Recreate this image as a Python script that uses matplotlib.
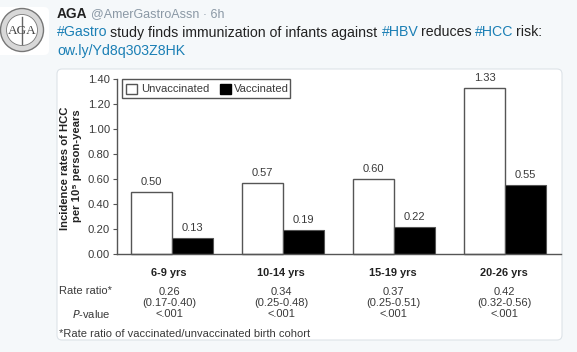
import matplotlib
matplotlib.use('Agg')
import matplotlib.pyplot as plt
from matplotlib.patches import Circle, FancyBboxPatch, Rectangle

plt.rcParams['font.family'] = ['Liberation Sans', 'DejaVu Sans']

# values
groups = ['6-9 yrs', '10-14 yrs', '15-19 yrs', '20-26 yrs']
unvaccinated = [0.50, 0.57, 0.60, 1.33]
vaccinated = [0.13, 0.19, 0.22, 0.55]
yticks = [0.00, 0.20, 0.40, 0.60, 0.80, 1.00, 1.20, 1.40]
rate_ratio = ['0.26', '0.34', '0.37', '0.42']
rate_ci = ['(0.17-0.40)', '(0.25-0.48)', '(0.25-0.51)', '(0.32-0.56)']
p_values = ['<.001', '<.001', '<.001', '<.001']

W, H = 577, 352
bg = '#f5f8fa'
blue = '#1b7fb5'
grey = '#3a3a3a'
edge = '#555555'

fig = plt.figure(figsize=(W / 100, H / 100), dpi=100, facecolor=bg)

# page layer, in pixels
page = fig.add_axes([0, 0, 1, 1])
page.set_xlim(0, W)
page.set_ylim(H, 0)
page.axis('off')

# white card behind the chart
page.add_patch(FancyBboxPatch((60, 72), 499, 265, boxstyle='round,pad=3,rounding_size=5',
                              fc='white', ec='#dde3e8', lw=0.8))

# avatar
page.add_patch(FancyBboxPatch((-6, 10), 52, 42, boxstyle='round,pad=3,rounding_size=5',
                              fc='white', ec='none'))
page.add_patch(Circle((22, 30), 21.5, fc='#d8d8d8', ec='#777777', lw=1))
page.add_patch(Circle((22, 30), 15.5, fc='white', ec='#777777', lw=0.6))
page.plot([22, 22], [17, 44], color='#666666', lw=1)
page.text(22, 31, 'AGA', fontsize=9.5, family='Liberation Serif', color='#444444',
          ha='center', va='center')

# tweet header
page.text(57, 13.5, 'AGA', fontsize=9.9, weight='bold', color='#222222', va='center')
page.text(91, 14, '@AmerGastroAssn · 6h', fontsize=9, color='#8a98a5', va='center')

# tweet text, one piece per colour
tweet = [(57, '#Gastro', blue), (110, 'study finds immunization of infants against', '#222222'),
         (382, '#HBV', blue), (421, 'reduces', '#222222'), (475, '#HCC', blue),
         (516, 'risk:', '#222222')]
for x, s, c in tweet:
    page.text(x, 32.5, s, fontsize=10.2, color=c, va='center')
page.text(57, 50.5, 'ow.ly/Yd8q303Z8HK', fontsize=10.2, color=blue, va='center')

# chart
ax = fig.add_axes([116.5 / W, 1 - 254 / H, 444 / W, 175 / H])
ax.patch.set_alpha(0)
pos = list(range(len(groups)))
w = 0.369
ax.bar([p - w / 2 for p in pos], unvaccinated, w, fc='white', ec=edge, lw=1, clip_on=False)
ax.bar([p + w / 2 for p in pos], vaccinated, w, fc='black', ec=edge, lw=0.8)
ax.set_xlim(-0.5, 3.5)
ax.set_ylim(0, 1.4)
ax.set_yticks(yticks)
ax.set_yticklabels(['%.2f' % v for v in yticks], fontsize=8.1, color=grey)
ax.set_xticks([])
ax.tick_params(axis='y', length=3.2, width=0.8, color=edge, pad=1.5)
for s in ['top', 'right']:
    ax.spines[s].set_visible(False)
for s in ['left', 'bottom']:
    ax.spines[s].set_color(edge)
    ax.spines[s].set_linewidth(1)

for i, p in enumerate(pos):
    ax.annotate('%.2f' % unvaccinated[i], (p - w / 2, unvaccinated[i]), xytext=(0, 5),
                textcoords='offset points', ha='center', fontsize=8, color=grey,
                annotation_clip=False)
    ax.annotate('%.2f' % vaccinated[i], (p + w / 2, vaccinated[i]), xytext=(0, 5),
                textcoords='offset points', ha='center', fontsize=8, color=grey)

# y label, two lines
page.text(65, 168.5, 'Incidence rates of HCC', fontsize=8.1, weight='bold', rotation=90,
          color='#222222', ha='center', va='center')
page.text(77, 166, 'per 10⁵ person-years', fontsize=8.1, weight='bold', rotation=90,
          color='#222222', ha='center', va='center')

# legend box
page.add_patch(Rectangle((122, 79), 168, 19, fc='white', ec=edge, lw=1, zorder=5))
page.add_patch(Rectangle((126, 84), 11, 10, fc='white', ec=edge, lw=1, zorder=6))
page.text(141.5, 89, 'Unvaccinated', fontsize=8.1, color=grey, va='center', zorder=6)
page.add_patch(Rectangle((219.5, 84), 11, 10, fc='black', ec='black', lw=1, zorder=6))
page.text(233.5, 89, 'Vaccinated', fontsize=8.1, color=grey, va='center', zorder=6)

# table below the axis
centers = [169, 281, 393, 504]
for i, x in enumerate(centers):
    page.text(x, 273, groups[i], fontsize=7.9, weight='bold', color='#222222', ha='center', va='center')
    page.text(x, 292, rate_ratio[i], fontsize=8, color=grey, ha='center', va='center')
    page.text(x, 303, rate_ci[i], fontsize=8, color=grey, ha='center', va='center')
    page.text(x, 314, p_values[i], fontsize=8, color=grey, ha='center', va='center')
page.text(59, 291.5, 'Rate ratio*', fontsize=8, color=grey, va='center')
page.text(110.5, 314, '$\\mathit{P}$-value', fontsize=8, color=grey, ha='right', va='center',
          math_fontfamily='custom')
page.text(59, 334, '*Rate ratio of vaccinated/unvaccinated birth cohort', fontsize=8, color=grey, va='center')

fig.savefig('out.png', dpi=100, facecolor=bg)
